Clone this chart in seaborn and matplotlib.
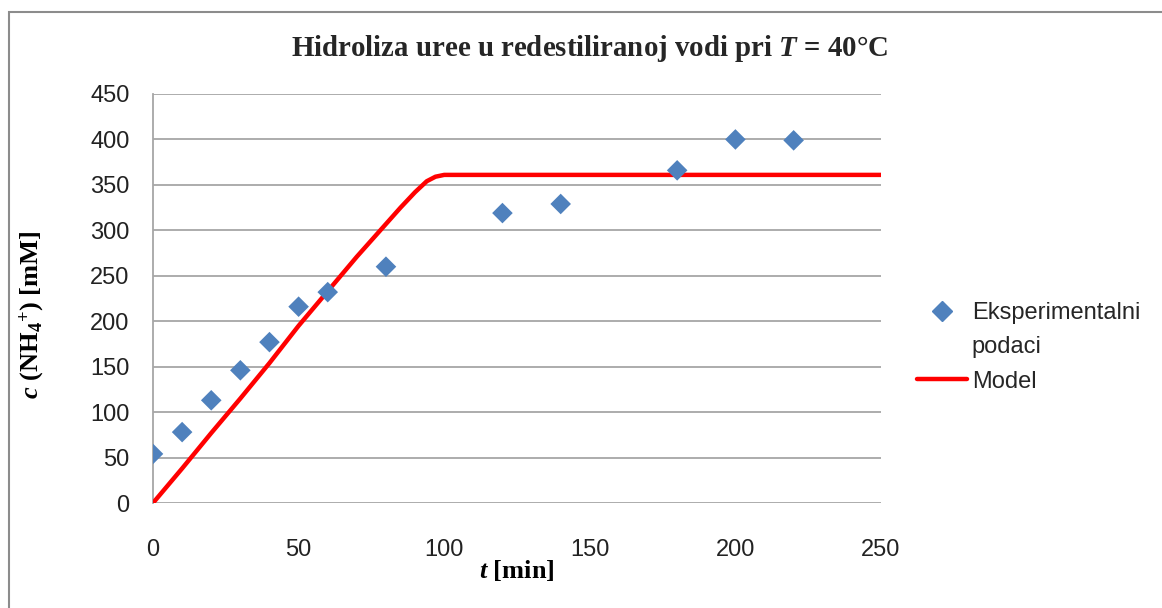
import matplotlib
matplotlib.use("Agg")
import matplotlib.pyplot as plt
import seaborn as sns
import pandas as pd
from matplotlib.patches import Rectangle
from matplotlib.lines import Line2D

t_exp = [0, 10, 20, 30, 40, 50, 60, 80, 120, 140, 180, 200, 220]
c_exp = [54, 78, 113, 146, 177, 216, 232, 260, 319, 329, 366, 400, 399]

# model curve
t_model = [0, 10, 20, 30, 40, 50, 60, 70, 80, 85, 90, 94, 97, 100, 150, 200, 250]
c_model = [0, 38, 77, 115, 154, 195, 233, 271, 307, 325, 342, 354, 359, 361, 361, 361, 361]

x_ticks = [0, 50, 100, 150, 200, 250]
y_ticks = [0, 50, 100, 150, 200, 250, 300, 350, 400, 450]

sns.set_theme(style="white")
plt.rcParams['font.family'] = ['Liberation Sans Narrow', 'Liberation Sans', 'DejaVu Sans']
plt.rcParams['mathtext.fontset'] = 'custom'
plt.rcParams['mathtext.rm'] = 'Liberation Serif:bold'
plt.rcParams['mathtext.it'] = 'Liberation Serif:italic:bold'
plt.rcParams['mathtext.bf'] = 'Liberation Serif:bold'

exp_df = pd.DataFrame({'t': t_exp, 'c': c_exp})
model_df = pd.DataFrame({'t': t_model, 'c': c_model})

fig = plt.figure(figsize=(11.62, 6.08), dpi=100)
ax = fig.add_axes([153 / 1162, 1 - 503 / 608, 728 / 1162, 409 / 608])

sns.lineplot(data=model_df, x='t', y='c', ax=ax, color='#ff0000', linewidth=3.2,
             errorbar=None, zorder=3)
sns.scatterplot(data=exp_df, x='t', y='c', ax=ax, marker='D', s=110, color='#4f81bd',
                edgecolor='none', zorder=4)

ax.set_xlim(0, 250)
ax.set_ylim(0, 450)
ax.set_xticks(x_ticks)
ax.set_yticks(y_ticks)
ax.yaxis.grid(True, color='#a6a6a6', linewidth=1.3)
ax.xaxis.grid(False)
for side in ['top', 'right', 'bottom']:
    ax.spines[side].set_visible(False)
ax.spines['left'].set_color('#a6a6a6')
ax.spines['left'].set_linewidth(1.3)
ax.tick_params(axis='both', length=0, labelsize=17, colors='#222222')
ax.tick_params(axis='x', pad=26)
ax.tick_params(axis='y', pad=17)

ax.set_xlabel(r'$t$ [min]', fontsize=19, family='Liberation Serif', weight='bold', color='black')
ax.xaxis.set_label_coords(0.5, -0.135)
ax.set_ylabel(r'$c\ \mathrm{(NH_4{}^{+})\ [mM]}$', fontsize=19, color='black')
ax.yaxis.set_label_coords(-0.147, 0.46)

fig.text(590 / 1162, 1 - 48 / 608, r'Hidroliza uree u redestiliranoj vodi pri $T$ = 40°C',
         ha='center', va='center', fontsize=20.8, family='Liberation Serif', weight='bold')

# legend: second line of the first label sits on its own row without a marker
handles = [Line2D([], [], marker='D', linestyle='none', color='#4f81bd', markersize=10),
           Line2D([], [], linestyle='none'),
           Line2D([], [], color='#ff0000', linewidth=3.2)]
leg = ax.legend(handles, ['Eksperimentalni', 'podaci', 'Model'], loc='upper left',
                bbox_to_anchor=(917 / 1162, 1 - 302 / 608), bbox_transform=fig.transFigure,
                frameon=False, fontsize=17, borderpad=0, borderaxespad=0,
                handlelength=2.1, handletextpad=0.22, labelspacing=0.52)

# outer chart frame (only top/left edges visible in the crop)
fig.patches.append(Rectangle((9 / 1162, -0.05), 1.1, 0.05 + 1 - 12 / 608,
                             transform=fig.transFigure, fill=False,
                             edgecolor='#8c8c8c', linewidth=1.5))

fig.savefig('out.png', dpi=100)
